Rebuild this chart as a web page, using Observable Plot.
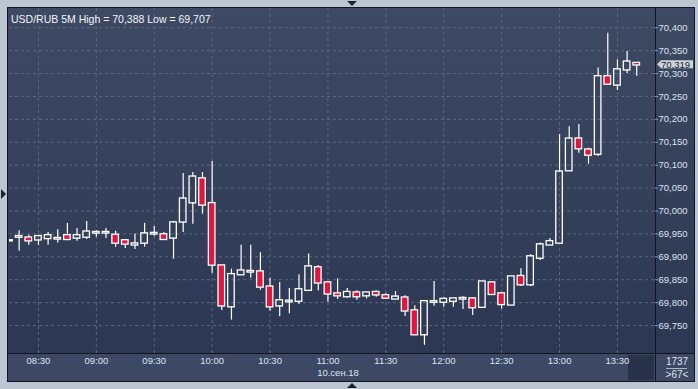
<!DOCTYPE html>
<html><head><meta charset="utf-8">
<script src="https://cdn.jsdelivr.net/npm/d3@7"></script>
<script src="https://cdn.jsdelivr.net/npm/@observablehq/plot@0.6"></script>
<style>
html,body{margin:0;padding:0;background:#bcc6d3;}
#wrap{position:relative;width:698px;height:389px;overflow:hidden;background:#bcc6d3;font-family:"Liberation Sans",Arial,sans-serif;}
.abs{position:absolute;}
#chart{position:absolute;left:0;top:0;}
.lbl{position:absolute;color:#dce4f0;font-size:10px;text-align:center;}
</style></head><body>
<div id="wrap">
  <div class="abs" style="left:7px;top:7px;width:688px;height:375px;background:#10151f"></div>
  <div class="abs" style="left:8px;top:8px;width:647px;height:345px;background:linear-gradient(#3e4a63,#2c3853)"></div>
  <div class="abs" style="left:656px;top:8px;width:38px;height:345px;background:linear-gradient(#3e4a63,#2c3853)"></div>
  <div class="abs" style="left:8px;top:354px;width:647px;height:27px;background:#3d4964"></div>
  <div class="abs" style="left:656px;top:354px;width:38px;height:27px;background:#3d4964"></div>
  <div class="abs" style="left:628px;top:355px;width:26px;height:25px;background:#28334b"></div>
  <div class="abs" style="left:347px;top:1px;width:0;height:0;border-left:5px solid transparent;border-right:5px solid transparent;border-top:5px solid #1b2333"></div>
  <div class="abs" style="left:1px;top:189px;width:0;height:0;border-top:5px solid transparent;border-bottom:5px solid transparent;border-left:5px solid #1b2333"></div>
  <div class="abs" style="left:347px;top:383px;width:0;height:0;border-left:5px solid transparent;border-right:5px solid transparent;border-bottom:5px solid #1b2333"></div>
  <div id="chart"></div>
  <div class="lbl" style="left:656px;top:356px;width:42px;">1737</div>
  <div class="abs" style="left:666px;top:368px;width:21px;height:1px;background:#aab4c4"></div>
  <div class="lbl" style="left:656px;top:369px;width:42px;">&gt;67&lt;</div>
</div>
<script>
const symbol = "USD/RUB 5M";
const dateLabel = "10.сен.18";
const times = ["08:15","08:20","08:25","08:30","08:35","08:40","08:45","08:50","08:55","09:00","09:05","09:10","09:15","09:20","09:25","09:30","09:35","09:40","09:45","09:50","09:55","10:00","10:05","10:10","10:15","10:20","10:25","10:30","10:35","10:40","10:45","10:50","10:55","11:00","11:05","11:10","11:15","11:20","11:25","11:30","11:35","11:40","11:45","11:50","11:55","12:00","12:05","12:10","12:15","12:20","12:25","12:30","12:35","12:40","12:45","12:50","12:55","13:00","13:05","13:10","13:15","13:20","13:25","13:30","13:35","13:40"];
const open  = [69.935,69.943,69.941,69.937,69.940,69.939,69.946,69.941,69.943,69.952,69.952,69.947,69.935,69.926,69.930,69.950,69.948,69.941,69.976,70.018,70.070,70.016,69.880,69.791,69.861,69.867,69.867,69.834,69.793,69.802,69.803,69.827,69.876,69.843,69.819,69.813,69.821,69.815,69.822,69.815,69.808,69.810,69.782,69.730,69.801,69.801,69.803,69.808,69.808,69.790,69.843,69.819,69.795,69.857,69.839,69.897,69.926,69.930,70.088,70.157,70.133,70.124,70.293,70.275,70.308,70.322];
const high  = [69.936,69.957,69.947,69.947,69.953,69.959,69.973,69.962,69.977,69.957,69.962,69.956,69.936,69.950,69.973,69.966,69.953,69.977,70.082,70.084,70.084,70.108,69.880,69.873,69.925,69.925,69.909,69.853,69.844,69.831,69.861,69.906,69.881,69.843,69.852,69.831,69.826,69.821,69.826,69.820,69.824,69.815,69.793,69.804,69.846,69.810,69.808,69.813,69.811,69.845,69.843,69.819,69.856,69.874,69.905,69.930,69.940,70.167,70.184,70.189,70.137,70.312,70.388,70.330,70.348,70.322];
const low   = [69.934,69.912,69.925,69.925,69.925,69.930,69.935,69.934,69.938,69.943,69.940,69.921,69.918,69.916,69.921,69.945,69.936,69.895,69.953,69.971,69.993,69.864,69.783,69.762,69.861,69.853,69.827,69.781,69.769,69.776,69.796,69.827,69.826,69.801,69.807,69.810,69.805,69.808,69.812,69.807,69.808,69.770,69.730,69.707,69.792,69.790,69.790,69.785,69.772,69.790,69.818,69.786,69.795,69.835,69.835,69.892,69.926,69.930,70.088,70.126,70.102,70.119,70.274,70.263,70.300,70.294];
const close = [69.935,69.944,69.935,69.944,69.946,69.940,69.938,69.946,69.954,69.953,69.953,69.930,69.928,69.928,69.950,69.951,69.938,69.974,70.026,70.074,70.013,69.882,69.793,69.861,69.869,69.868,69.834,69.791,69.804,69.803,69.828,69.878,69.843,69.819,69.815,69.822,69.813,69.821,69.817,69.810,69.812,69.782,69.730,69.802,69.802,69.807,69.808,69.809,69.789,69.845,69.818,69.796,69.856,69.839,69.900,69.926,69.933,70.085,70.157,70.136,70.122,70.293,70.277,70.308,70.325,70.319];
const yTicks = [69.75,69.80,69.85,69.90,69.95,70.00,70.05,70.10,70.15,70.20,70.25,70.30,70.35,70.40];
const xTickLabels = ["08:30","09:00","09:30","10:00","10:30","11:00","11:30","12:00","12:30","13:00","13:30"];

const toDate = s => { const [h,m] = s.split(":").map(Number); return new Date(Date.UTC(2018,8,10,h,m)); };
const half = 1.7*60000;
const data = times.map((s,i) => {
  const t = toDate(s);
  return {t, t1:new Date(+t-half), t2:new Date(+t+half), open:open[i], high:high[i], low:low[i], close:close[i],
          top:Math.max(open[i],close[i]), bot:Math.min(open[i],close[i])};
});
const bull = data.filter(d => d.close >= d.open);
const bear = data.filter(d => d.close < d.open);
const xTicks = xTickLabels.map(toDate);
const xDomain = [toDate("08:15"), new Date(+toDate("13:49") + 12000)];
const fmt = v => d3.format(".3f")(v).replace(".", ",");
const title = `${symbol} High = ${fmt(d3.max(high))} Low = ${fmt(d3.min(low))}`;
const lastClose = close[close.length-1];

const chart = Plot.plot({
  width: 698, height: 389,
  marginLeft: 9, marginRight: 44, marginTop: 8, marginBottom: 36,
  style: {background: "transparent", fontFamily: "Liberation Sans, Arial, sans-serif", fontSize: "9.5px", overflow: "visible"},
  x: {type: "utc", domain: xDomain},
  y: {domain: [69.689, 70.442]},
  marks: [
    Plot.gridY(yTicks, {stroke: "#5b6882", strokeOpacity: 1, strokeDasharray: "3,3"}),
    Plot.gridX(xTicks, {stroke: "#5b6882", strokeOpacity: 1, strokeDasharray: "3,3"}),
    Plot.axisY(yTicks, {anchor: "right", tickSize: 3, tickPadding: 1, stroke: "#6f9fe0", fill: "#dbe3f0", tickFormat: fmt, label: null}),
    Plot.axisX(xTicks, {anchor: "bottom", tickSize: 0, tickPadding: 4, fill: "#dbe3f0", tickFormat: d3.utcFormat("%H:%M"), label: null}),
    Plot.ruleX(data, {x: "t", y1: "low", y2: "bot", stroke: "white", strokeWidth: 1.2, clip: true}),
    Plot.ruleX(data, {x: "t", y1: "top", y2: "high", stroke: "white", strokeWidth: 1.2, clip: true}),
    Plot.rect(bull, {x1: "t1", x2: "t2", y1: "bot", y2: "top", fill: "none", stroke: "white", strokeWidth: 1.3, insetTop: -0.6, insetBottom: -0.6, clip: true}),
    Plot.rect(bear, {x1: "t1", x2: "t2", y1: "bot", y2: "top", fill: "#e0163e", stroke: "white", strokeWidth: 1.3, insetTop: -0.6, insetBottom: -0.6, clip: true}),
    Plot.text([title], {frameAnchor: "top-left", dx: 1.5, dy: 6.8, textAnchor: "start", fill: "#f2f4f8", fontSize: 10.5}),
    Plot.text([dateLabel], {frameAnchor: "bottom", dx: 6, dy: 22, fill: "#dbe3f0"})
  ]
});
document.getElementById("chart").appendChild(chart);

const svg = d3.select(chart);
const yy = chart.scale("y").apply(lastClose);
svg.append("path")
  .attr("d", `M657,${yy} L661,${yy-4} L693,${yy-4} L693,${yy+4} L661,${yy+4} Z`)
  .attr("fill", "#cdd2d9");
svg.append("text").attr("x", 661).attr("y", yy).attr("dy", "0.35em")
  .attr("text-anchor", "start")
  .attr("fill", "#1b2536").attr("font-size", 9.5).text(fmt(lastClose));
</script>
</body></html>
